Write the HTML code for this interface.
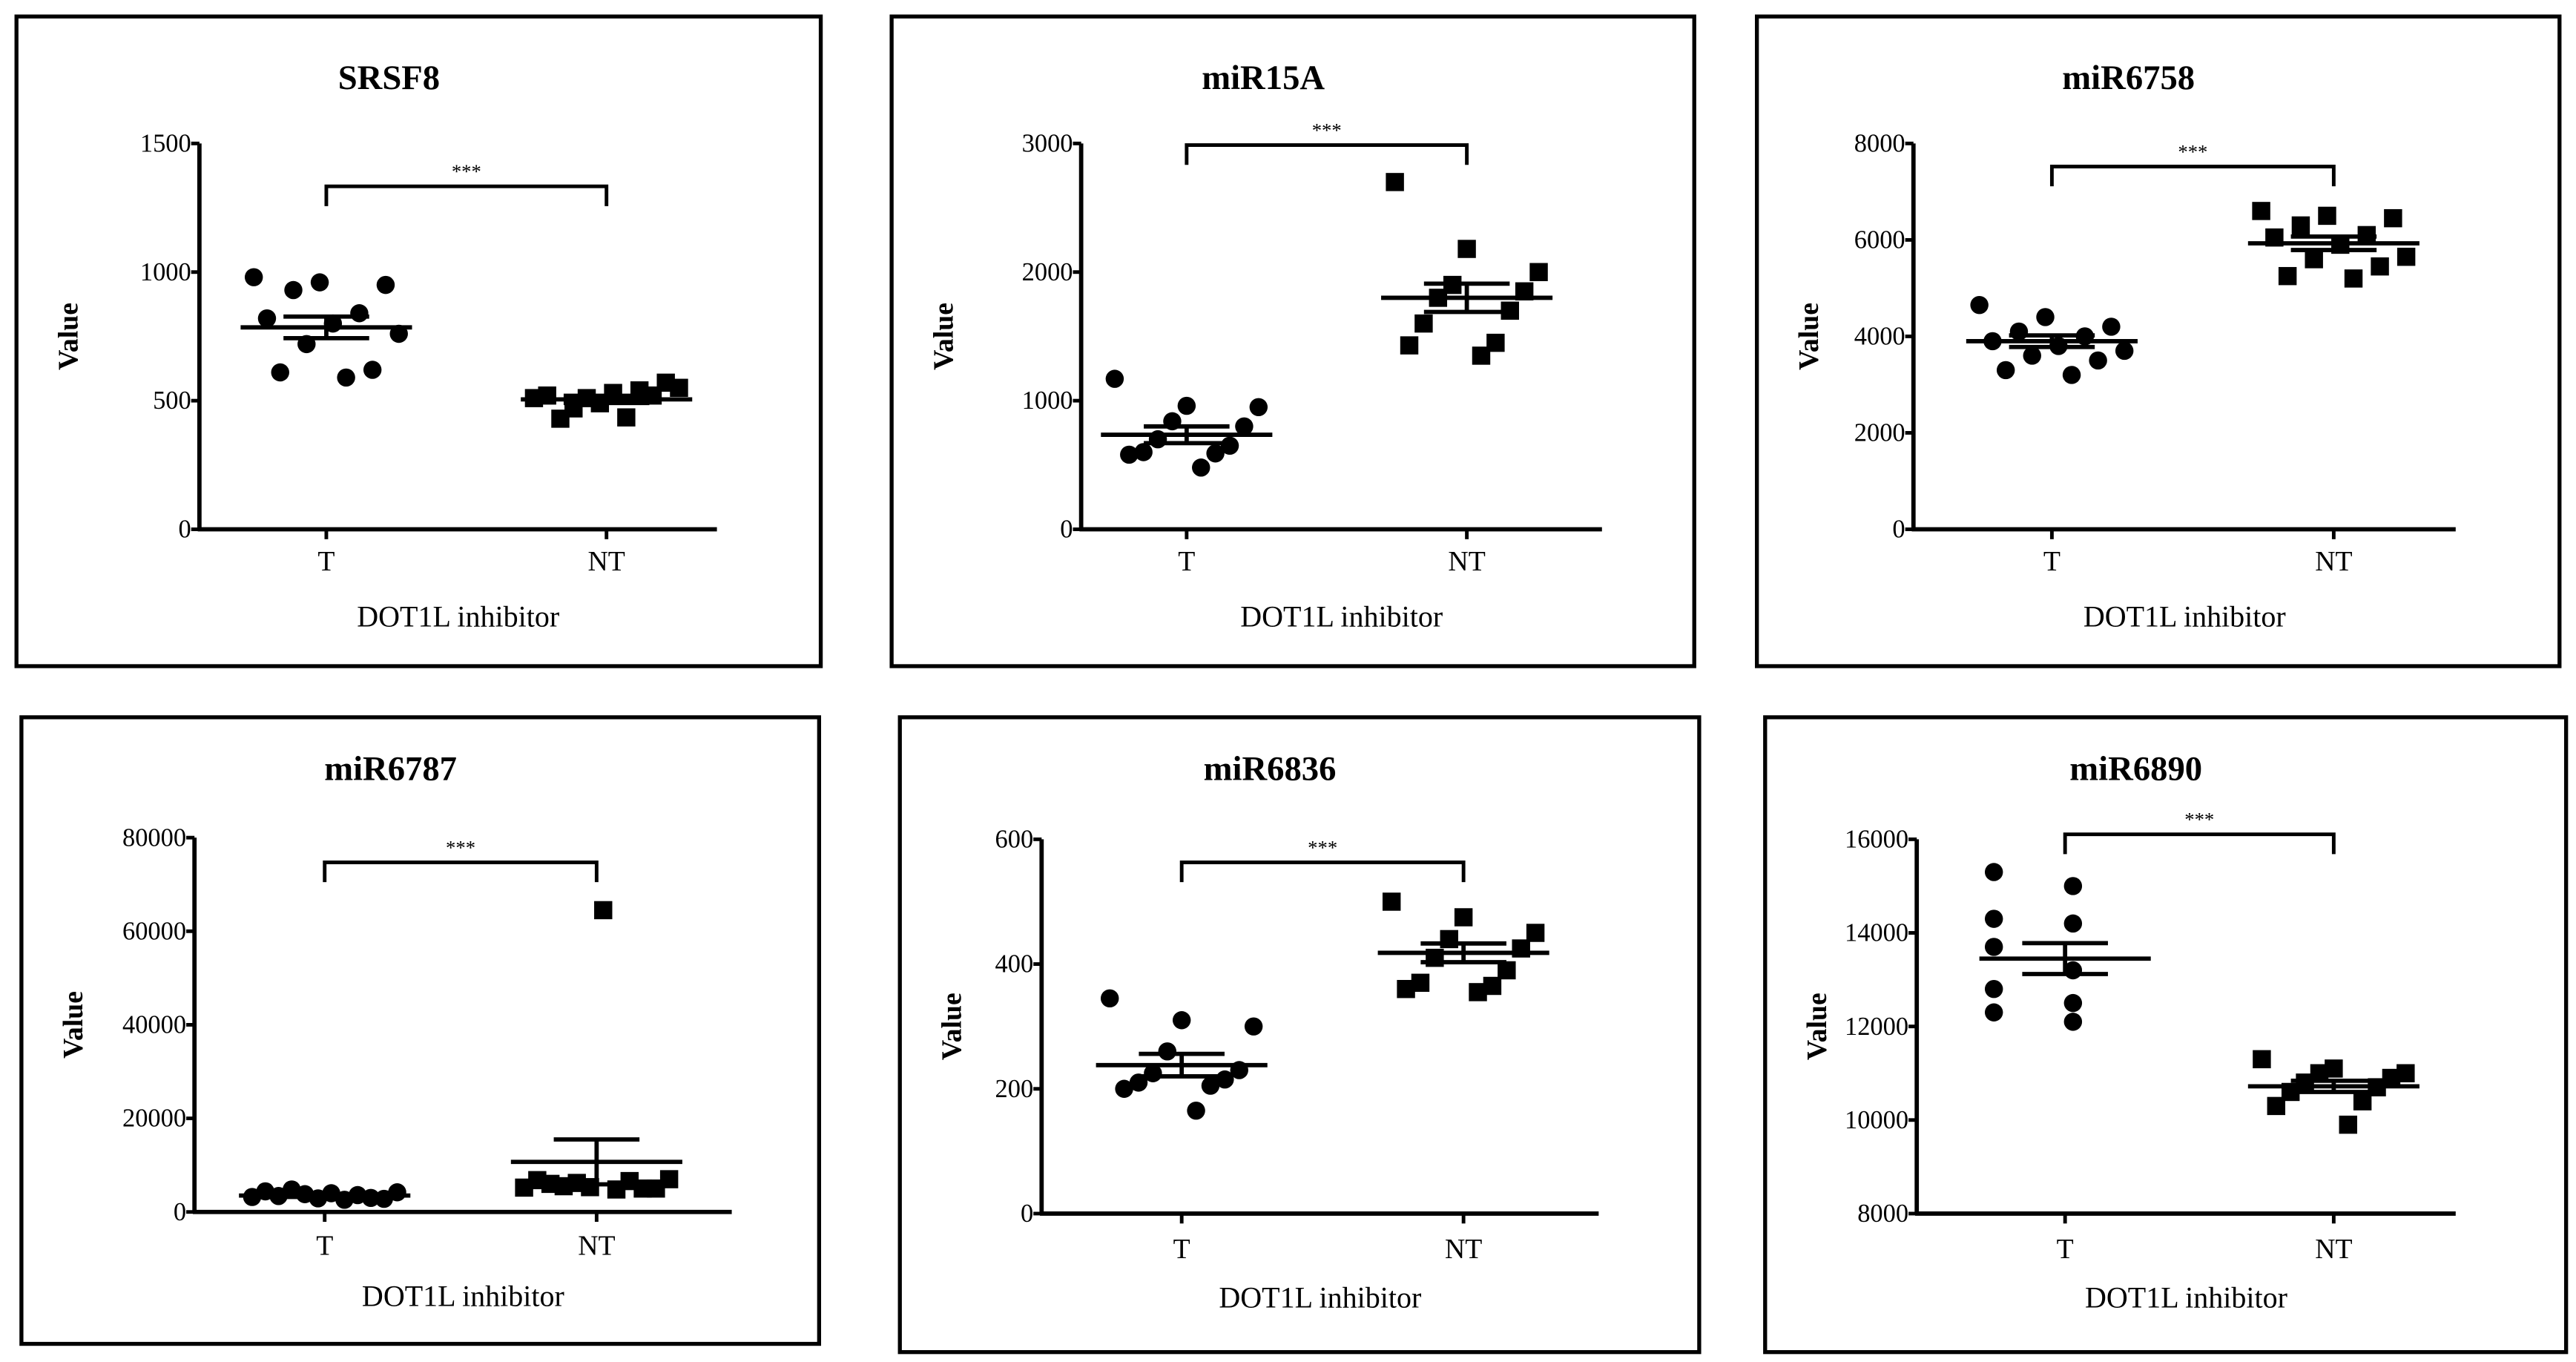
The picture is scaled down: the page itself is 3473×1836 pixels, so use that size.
<!DOCTYPE html>
<html><head><meta charset="utf-8">
<style>
html,body{margin:0;padding:0;background:#fff;}
svg{display:block;}
text{font-family:"Liberation Serif",serif;fill:#000;}
</style></head>
<body>
<svg id="fig" width="3473" height="1836" viewBox="0 0 1563 826" preserveAspectRatio="none" xmlns="http://www.w3.org/2000/svg"></svg>
<script>
const categories = ["T", "NT"];
const titles = ["SRSF8", "miR15A", "miR6758", "miR6787", "miR6836", "miR6890"];
const yTicks1 = [0, 500, 1000, 1500];
const yTicks2 = [0, 1000, 2000, 3000];
const yTicks3 = [0, 2000, 4000, 6000, 8000];
const yTicks4 = [0, 20000, 40000, 60000, 80000];
const yTicks5 = [0, 200, 400, 600];
const yTicks6 = [8000, 10000, 12000, 14000, 16000];
const t1 = [980, 960, 950, 930, 840, 820, 800, 760, 720, 620, 610, 590];
const nt1 = [510, 490, 570, 470, 540, 520, 530, 550, 510, 520, 430, 435];
const mean1 = [785, 505]; const sem1 = [42, 14];
const t2 = [1170, 960, 950, 840, 800, 700, 650, 600, 590, 580, 480];
const nt2 = [2700, 2180, 2000, 1900, 1850, 1800, 1700, 1600, 1450, 1430, 1350];
const mean2 = [735, 1800]; const sem2 = [65, 110];
const t3 = [4650, 4400, 4200, 4100, 4000, 3900, 3800, 3700, 3600, 3500, 3300, 3200];
const nt3 = [6600, 6500, 6450, 6300, 6100, 6050, 5900, 5650, 5600, 5450, 5250, 5200];
const mean3 = [3900, 5930]; const sem3 = [120, 140];
const t4 = [3200, 2900, 2800, 4800, 3600, 4400, 4000, 4200, 3800, 3000, 3400, 2600];
const nt4 = [5200, 5300, 5000, 5500, 6600, 6800, 64500, 7000, 6200, 5000, 6000, 4800];
const mean4 = [3500, 10700]; const sem4 = [300, 4800];
const t5 = [345, 310, 300, 260, 230, 225, 215, 210, 205, 200, 165];
const nt5 = [500, 475, 450, 440, 425, 410, 390, 370, 365, 360, 355];
const mean5 = [238, 418]; const sem5 = [18, 15];
const t6 = [15300, 15000, 14300, 14200, 13700, 13200, 12800, 12500, 12300, 12100];
const nt6 = [11300, 11100, 11000, 11000, 10900, 10800, 10700, 10600, 10400, 10300, 9900];
const mean6 = [13450, 10720]; const sem6 = [330, 120];

const panels = [
 {box:[10,10,498,404], ax:121, yTop:87, yBot:321, xEnd:435, cx:[198,368], br:113, ticks:yTicks1, t:t1, nt:nt1, mean:mean1, sem:sem1, titleY:47, tickY:346, xtY:380},
 {box:[541,10,1028,404], ax:656, yTop:87, yBot:321, xEnd:972, cx:[720,890], br:88, ticks:yTicks2, t:t2, nt:nt2, mean:mean2, sem:sem2, titleY:47, tickY:346, xtY:380},
 {box:[1066,10,1553,404], ax:1161, yTop:87, yBot:321, xEnd:1490, cx:[1245,1416], br:101, ticks:yTicks3, t:t3, nt:nt3, mean:mean3, sem:sem3, titleY:47, tickY:346, xtY:380},
 {box:[13,435,497,815], ax:118, yTop:508, yBot:735, xEnd:444, cx:[197,362], br:523, ticks:yTicks4, t:t4, nt:nt4, mean:mean4, sem:sem4, titleY:466, tickY:761, xtY:792},
 {box:[546,435,1031,820], ax:632, yTop:509, yBot:736, xEnd:970, cx:[717,888], br:523, ticks:yTicks5, t:t5, nt:nt5, mean:mean5, sem:sem5, titleY:466, tickY:763, xtY:793},
 {box:[1071,435,1557,820], ax:1163, yTop:509, yBot:736, xEnd:1490, cx:[1253,1416], br:506, ticks:yTicks6, t:t6, nt:nt6, mean:mean6, sem:sem6, titleY:466, tickY:763, xtY:793}
];
const NS = "http://www.w3.org/2000/svg";
const svg = document.getElementById('fig');
function mk(tag, attrs, parent, txt){
  const e = document.createElementNS(NS, tag);
  for (const k in attrs) e.setAttribute(k, attrs[k]);
  if (txt !== undefined) e.textContent = txt;
  parent.appendChild(e);
  return e;
}
panels.forEach((p, pi) => {
  const g = mk('g', {}, svg);
  
  
  const lo = p.ticks[0], hi = p.ticks[p.ticks.length-1];
  const y = v => p.yBot - (v - lo) / (hi - lo) * (p.yBot - p.yTop);
  const [bx0,by0,bx1,by1] = p.box;
  const box = mk('rect', {x:bx0, y:by0, width:bx1-bx0, height:by1-by0, fill:'none', stroke:'#000', 'stroke-width':2.4}, g);
  
  
  const midX = (p.ax + p.xEnd) / 2;
  const tt = mk('text', {x:(bx0+bx1)/2 - 18, y:p.titleY + 7, 'font-size':21, 'font-weight':'bold', 'text-anchor':'middle'}, g, titles[pi]);
  
  
  const ya = mk('line', {x1:p.ax, y1:p.yTop, x2:p.ax, y2:p.yBot+1, stroke:'#000', 'stroke-width':2.6}, g);
  
  
  const xa = mk('line', {x1:p.ax-1, y1:p.yBot, x2:p.xEnd, y2:p.yBot, stroke:'#000', 'stroke-width':2.6}, g);
  
  
  p.ticks.forEach(v => {
    mk('line', {x1:p.ax-5, y1:y(v), x2:p.ax, y2:y(v), stroke:'#000', 'stroke-width':2.2}, g);
    const tl = mk('text', {x:p.ax-5, y:y(v)+5, 'font-size':15.5, 'text-anchor':'end'}, g, String(v));
    
    
  });
  categories.forEach((c, ci) => {
    mk('line', {x1:p.cx[ci], y1:p.yBot, x2:p.cx[ci], y2:p.yBot+6, stroke:'#000', 'stroke-width':2.2}, g);
    const cl = mk('text', {x:p.cx[ci], y:p.tickY, 'font-size':17, 'text-anchor':'middle'}, g, c);
    
    
  });
  const xt = mk('text', {x:midX, y:p.xtY, 'font-size':18, 'text-anchor':'middle'}, g, 'DOT1L inhibitor');
  
  
  const yl = mk('text', {x:0, y:0, 'font-size':17, 'font-weight':'bold', 'text-anchor':'middle', transform:'translate(' + (bx0+37) + ',' + ((p.yTop+p.yBot)/2) + ') rotate(-90)'}, g, 'Value');
  
  
  const br = mk('path', {d:'M' + p.cx[0] + ',' + (p.br+12) + 'V' + p.br + 'H' + p.cx[1] + 'V' + (p.br+12), fill:'none', stroke:'#000', 'stroke-width':2.2}, g);
  
  
  const st = mk('text', {x:(p.cx[0]+p.cx[1])/2, y:p.br-5, 'font-size':12, 'text-anchor':'middle'}, g, '***');
  
  
  [p.t, p.nt].forEach((arr, ci) => {
    const n = arr.length, step = 96 / n;
    arr.forEach((v, i) => {
      const off = (((i * 5) % n) - (n - 1) / 2) * step;
      const px = p.cx[ci] + off, py = y(v);
      let m;
      if (ci === 0) m = mk('circle', {cx:px, cy:py, r:5.5, fill:'#000'}, g);
      else m = mk('rect', {x:px-5.5, y:py-5.5, width:11, height:11, fill:'#000'}, g);
      
      
    });
    const mv = p.mean[ci], sv = p.sem[ci], c = p.cx[ci];
    const ml = mk('line', {x1:c-52, y1:y(mv), x2:c+52, y2:y(mv), stroke:'#000', 'stroke-width':2.6}, g);
    
    
    const eb = mk('path', {d:'M' + (c-26) + ',' + y(mv+sv) + 'H' + (c+26) + 'M' + (c-26) + ',' + y(mv-sv) + 'H' + (c+26) + 'M' + c + ',' + y(mv+sv) + 'V' + y(mv-sv), fill:'none', stroke:'#000', 'stroke-width':2.6}, g);
    
    
  });
});
</script>
</body></html>
